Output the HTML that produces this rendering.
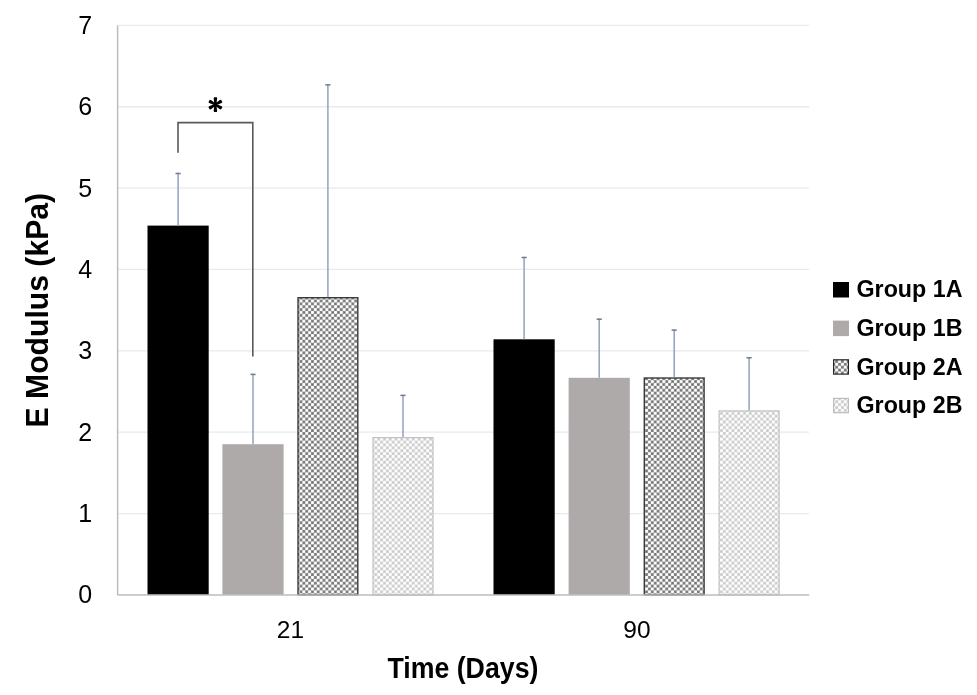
<!DOCTYPE html>
<html><head><meta charset="utf-8"><style>
html,body{margin:0;padding:0;background:#fff;width:977px;height:695px;overflow:hidden}
svg{display:block;font-family:"Liberation Sans",sans-serif;will-change:transform}
</style></head><body>
<svg width="977" height="695" viewBox="0 0 977 695">
<defs>
<pattern id="p2a" patternUnits="userSpaceOnUse" width="5.76" height="5.76" x="0" y="0">
<rect width="5.76" height="5.76" fill="#888"/>
<circle cx="1.44" cy="1.44" r="1.65" fill="#fff"/><circle cx="4.32" cy="4.32" r="1.65" fill="#fff"/>
<circle cx="4.32" cy="1.44" r="0.8" fill="#606060"/><circle cx="1.44" cy="4.32" r="0.8" fill="#606060"/>
</pattern>
<pattern id="p2b" patternUnits="userSpaceOnUse" width="5.76" height="5.76" x="0" y="0">
<rect width="5.76" height="5.76" fill="#d6d6d6"/>
<circle cx="1.44" cy="1.44" r="1.6" fill="#fff"/><circle cx="4.32" cy="4.32" r="1.6" fill="#fff"/>
<circle cx="4.32" cy="1.44" r="0.9" fill="#c4c4c4"/><circle cx="1.44" cy="4.32" r="0.9" fill="#c4c4c4"/>
</pattern>
</defs>
<rect width="977" height="695" fill="#fff"/>

<line x1="117.6" y1="513.54" x2="809.2" y2="513.54" stroke="#e9eaee" stroke-width="1.3"/>
<line x1="117.6" y1="432.19" x2="809.2" y2="432.19" stroke="#e9eaee" stroke-width="1.3"/>
<line x1="117.6" y1="350.83" x2="809.2" y2="350.83" stroke="#e9eaee" stroke-width="1.3"/>
<line x1="117.6" y1="269.47" x2="809.2" y2="269.47" stroke="#e9eaee" stroke-width="1.3"/>
<line x1="117.6" y1="188.11" x2="809.2" y2="188.11" stroke="#e9eaee" stroke-width="1.3"/>
<line x1="117.6" y1="106.76" x2="809.2" y2="106.76" stroke="#e9eaee" stroke-width="1.3"/>
<line x1="117.6" y1="25.40" x2="809.2" y2="25.40" stroke="#e9eaee" stroke-width="1.3"/>
<rect x="147.50" y="225.60" width="61.2" height="369.30" fill="#000"/>
<rect x="222.40" y="444.20" width="61.2" height="150.70" fill="#aeaaaa"/>
<rect x="298.00" y="297.70" width="59.80" height="297.20" fill="url(#p2a)" stroke="#3a3a3a" stroke-width="1.4"/>
<rect x="373.00" y="437.60" width="60.00" height="157.30" fill="url(#p2b)" stroke="#c2c2c2" stroke-width="1.2"/>
<rect x="493.50" y="339.30" width="61.2" height="255.60" fill="#000"/>
<rect x="568.60" y="377.80" width="61.2" height="217.10" fill="#aeaaaa"/>
<rect x="644.30" y="378.00" width="59.80" height="216.90" fill="url(#p2a)" stroke="#3a3a3a" stroke-width="1.4"/>
<rect x="719.10" y="410.90" width="60.00" height="184.00" fill="url(#p2b)" stroke="#c2c2c2" stroke-width="1.2"/>
<line x1="178.10" y1="172.80" x2="178.10" y2="225.60" stroke="#92a2bd" stroke-width="1.5"/>
<line x1="175.50" y1="173.50" x2="180.70" y2="173.50" stroke="#737b8c" stroke-width="1.5"/>
<line x1="253.00" y1="373.70" x2="253.00" y2="444.20" stroke="#92a2bd" stroke-width="1.5"/>
<line x1="250.40" y1="374.40" x2="255.60" y2="374.40" stroke="#737b8c" stroke-width="1.5"/>
<line x1="327.90" y1="84.20" x2="327.90" y2="297.00" stroke="#92a2bd" stroke-width="1.5"/>
<line x1="325.30" y1="84.90" x2="330.50" y2="84.90" stroke="#737b8c" stroke-width="1.5"/>
<line x1="403.00" y1="394.70" x2="403.00" y2="437.00" stroke="#92a2bd" stroke-width="1.5"/>
<line x1="400.40" y1="395.40" x2="405.60" y2="395.40" stroke="#737b8c" stroke-width="1.5"/>
<line x1="524.10" y1="256.80" x2="524.10" y2="339.30" stroke="#92a2bd" stroke-width="1.5"/>
<line x1="521.50" y1="257.50" x2="526.70" y2="257.50" stroke="#737b8c" stroke-width="1.5"/>
<line x1="599.20" y1="318.50" x2="599.20" y2="377.80" stroke="#92a2bd" stroke-width="1.5"/>
<line x1="596.60" y1="319.20" x2="601.80" y2="319.20" stroke="#737b8c" stroke-width="1.5"/>
<line x1="674.20" y1="329.40" x2="674.20" y2="377.30" stroke="#92a2bd" stroke-width="1.5"/>
<line x1="671.60" y1="330.10" x2="676.80" y2="330.10" stroke="#737b8c" stroke-width="1.5"/>
<line x1="749.10" y1="357.10" x2="749.10" y2="410.30" stroke="#92a2bd" stroke-width="1.5"/>
<line x1="746.50" y1="357.80" x2="751.70" y2="357.80" stroke="#737b8c" stroke-width="1.5"/>
<line x1="117.6" y1="25.4" x2="117.6" y2="594.9" stroke="#bcbcbc" stroke-width="1.5"/>
<line x1="117.6" y1="594.9" x2="809.2" y2="594.9" stroke="#bcbcbc" stroke-width="1.5"/>
<polyline points="178,152.7 178,122.6 252.8,122.6 252.8,356.6" fill="none" stroke="#595959" stroke-width="1.6"/>
<path d="M216.30 104.60 L217.15 98.50 L216.80 97.30 L214.00 97.30 L213.65 98.50 L214.50 104.60ZM214.95 103.82 L209.24 106.13 L208.38 107.04 L209.78 109.46 L210.99 109.17 L215.85 105.38ZM214.95 105.38 L219.81 109.17 L221.02 109.46 L222.42 107.04 L221.56 106.13 L215.85 103.82ZM214.50 104.60 L213.65 110.70 L214.00 111.90 L216.80 111.90 L217.15 110.70 L216.30 104.60ZM215.85 105.38 L221.56 103.07 L222.42 102.16 L221.02 99.74 L219.81 100.03 L214.95 103.82ZM215.85 103.82 L210.99 100.03 L209.78 99.74 L208.38 102.16 L209.24 103.07 L214.95 105.38Z" fill="#000"/><circle cx="215.4" cy="104.6" r="1.6" fill="#000"/>
<text x="92.2" y="603.30" font-size="25" text-anchor="end" fill="#000">0</text>
<text x="92.2" y="521.94" font-size="25" text-anchor="end" fill="#000">1</text>
<text x="92.2" y="440.59" font-size="25" text-anchor="end" fill="#000">2</text>
<text x="92.2" y="359.23" font-size="25" text-anchor="end" fill="#000">3</text>
<text x="92.2" y="277.87" font-size="25" text-anchor="end" fill="#000">4</text>
<text x="92.2" y="196.51" font-size="25" text-anchor="end" fill="#000">5</text>
<text x="92.2" y="115.16" font-size="25" text-anchor="end" fill="#000">6</text>
<text x="92.2" y="33.80" font-size="25" text-anchor="end" fill="#000">7</text>
<text x="290.5" y="638" font-size="24.5" text-anchor="middle" fill="#000">21</text>
<text x="637" y="638" font-size="24.5" text-anchor="middle" fill="#000">90</text>
<text x="387.4" y="678.3" font-size="30" font-weight="bold" textLength="151" lengthAdjust="spacingAndGlyphs" fill="#000">Time (Days)</text>
<text transform="translate(48.2,427.4) rotate(-90)" x="0" y="0" font-size="31" font-weight="bold" textLength="234.5" lengthAdjust="spacingAndGlyphs" fill="#000">E Modulus (kPa)</text>
<rect x="833" y="282.00" width="16" height="15.5" fill="#000"/>
<text x="856.5" y="297.30" font-size="24.5" font-weight="bold" textLength="106" lengthAdjust="spacingAndGlyphs" fill="#000">Group 1A</text>
<rect x="833" y="320.60" width="16" height="15.5" fill="#aeaaaa"/>
<text x="856.5" y="335.90" font-size="24.5" font-weight="bold" textLength="106" lengthAdjust="spacingAndGlyphs" fill="#000">Group 1B</text>
<rect x="833.6" y="359.80" width="14.8" height="14.3" fill="url(#p2a)" stroke="#262626" stroke-width="1.2"/>
<text x="856.5" y="374.50" font-size="24.5" font-weight="bold" textLength="106" lengthAdjust="spacingAndGlyphs" fill="#000">Group 2A</text>
<rect x="833.6" y="398.40" width="14.8" height="14.3" fill="url(#p2b)" stroke="#bdbdbd" stroke-width="1.2"/>
<text x="856.5" y="413.10" font-size="24.5" font-weight="bold" textLength="106" lengthAdjust="spacingAndGlyphs" fill="#000">Group 2B</text>
</svg></body></html>
